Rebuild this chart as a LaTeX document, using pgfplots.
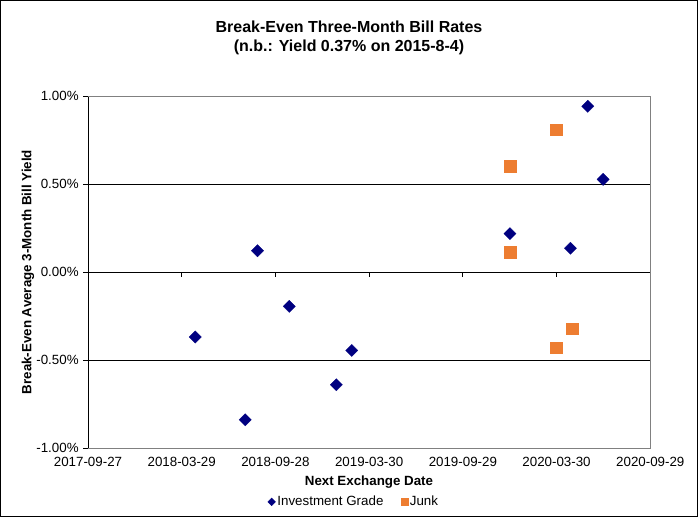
\documentclass[border=0pt]{standalone}
\usepackage{pgfplots}
\pgfplotsset{compat=1.18}
\usepackage{fontspec}
\setmainfont{Liberation Sans}
\definecolor{ignavy}{RGB}{0,0,128}
\definecolor{junkorange}{RGB}{237,125,49}
\definecolor{boxgray}{RGB}{128,128,128}
\begin{document}
\begin{tikzpicture}[font=\fontsize{10pt}{12pt}\selectfont]
\useasboundingbox (0,0) rectangle (523.5pt,387.75pt);
\begin{axis}[
  at={(66pt,51.5pt)}, anchor=south west,
  scale only axis, width=421.7pt, height=264.2pt,
  xmin=0, xmax=1098, ymin=-1, ymax=1,
  axis x line=middle, axis y line=left,
  axis line style={-, black, line width=0.75pt},
  hide obscured x ticks=false, hide obscured y ticks=false,
  xtick={0,183,366,549,732,915,1098},
  xticklabels={2017-09-27,2018-03-29,2018-09-28,2019-03-30,2019-09-29,2020-03-30,2020-09-29},
  xticklabel style={yshift=-132pt, font=\fontsize{10pt}{12pt}\selectfont},
  ytick={-1,-0.5,0,0.5,1},
  yticklabels={-1.00\%,-0.50\%,0.00\%,0.50\%,1.00\%},
  yticklabel style={font=\fontsize{10pt}{12pt}\selectfont},
  extra y ticks={-0.5,0.5}, extra y tick labels={},
  extra y tick style={grid=major},
  major grid style={black, line width=0.75pt},
  xtick align=outside, ytick align=outside,
  major tick length=3.5pt,
  tick style={black, line width=0.75pt},
  clip=false,
  legend columns=2,
  legend style={at={(axis description cs:0.473,-0.152)}, anchor=center, draw=none, fill=none,
    font=\fontsize{10pt}{12pt}\selectfont, column sep=0pt,
    /tikz/every even column/.append style={column sep=12pt},
    nodes={inner xsep=1.5pt}},
  legend cell align=left,
]
\draw[boxgray, line width=0.75pt] (rel axis cs:0,1) -- (rel axis cs:1,1) -- (rel axis cs:1,0) -- (rel axis cs:0,0);
\addplot[only marks, mark=square*, mark size=3.25pt, mark options={rotate=45, fill=ignavy, draw=ignavy, line width=0.2pt},
  legend image code/.code={\draw[mark=square*, mark size=2pt, mark options={rotate=45, fill=ignavy, draw=ignavy}] plot coordinates {(0.12cm,0cm)};}]
coordinates {
(209.5,-0.368) (307,-0.838) (331,0.122) (393,-0.194) (485,-0.639)
(515,-0.444) (824,0.219) (942,0.136) (976,0.942) (1006,0.527)
};
\addlegendentry{Investment Grade}
\addplot[only marks, mark=square*, mark size=4.4pt, mark options={fill=junkorange, draw=junkorange, line width=0.2pt},
  legend image code/.code={\draw[mark=square*, mark size=2.4pt, mark options={fill=junkorange, draw=junkorange}] plot coordinates {(0.12cm,0cm)};}]
coordinates {
(824,0.603) (824,0.113) (914,0.809) (914,-0.429) (945,-0.321)
};
\addlegendentry{Junk}
\end{axis}
\node[font=\fontsize{12pt}{14pt}\selectfont\bfseries] at (261.75pt,367.5pt) {Break-Even Three-Month Bill Rates};
\node[font=\fontsize{12pt}{14pt}\selectfont\bfseries] at (261.75pt,352.5pt) {(n.b.: Yield 0.37\% on 2015-8-4)};
\node[font=\fontsize{10pt}{12pt}\selectfont\bfseries, rotate=90] at (21pt,183.75pt) {Break-Even Average 3-Month Bill Yield};
\node[font=\fontsize{10pt}{12pt}\selectfont\bfseries] at (276.75pt,26.25pt) {Next Exchange Date};
\draw[black, line width=1pt] (0.5pt,0.5pt) rectangle (523pt,387.25pt);
\end{tikzpicture}
\end{document}
